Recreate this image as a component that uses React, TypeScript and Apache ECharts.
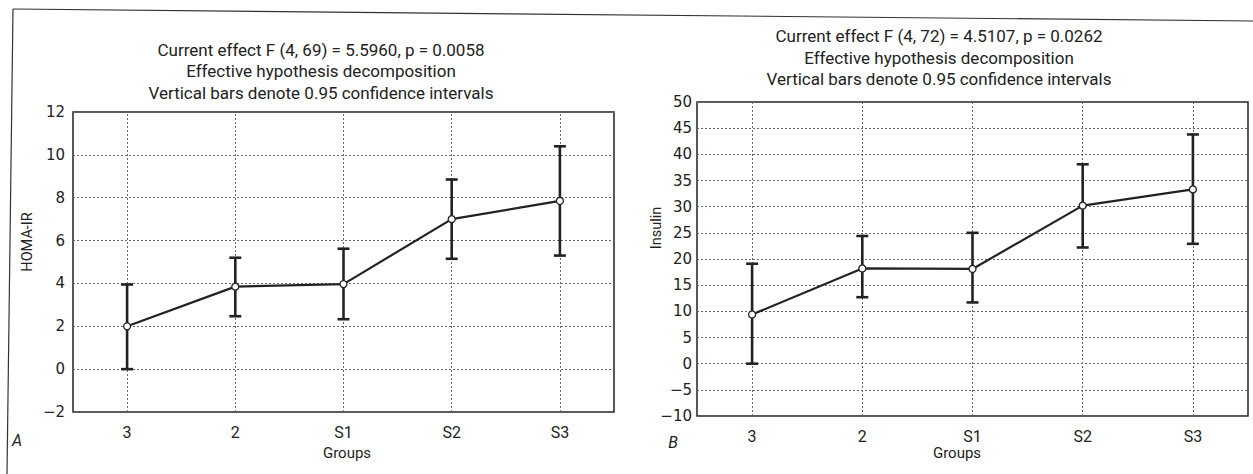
import React, { useEffect, useRef } from "react";
import * as echarts from "echarts";

const categories = ["3", "2", "S1", "S2", "S3"];

const homaMean = [2.0, 3.85, 3.97, 7.0, 7.85];
const homaLow = [0.0, 2.47, 2.33, 5.15, 5.3];
const homaHigh = [3.95, 5.2, 5.62, 8.85, 10.4];

const insulinMean = [9.4, 18.2, 18.1, 30.2, 33.3];
const insulinLow = [0.0, 12.7, 11.7, 22.2, 22.9];
const insulinHigh = [19.1, 24.4, 25.0, 38.1, 43.8];

const homaAxis = { min: -2, max: 12, interval: 2 };
const insulinAxis = { min: -10, max: 50, interval: 5 };

const titleA = [
  "Current effect F (4, 69) = 5.5960, p = 0.0058",
  "Effective hypothesis decomposition",
  "Vertical bars denote 0.95 confidence intervals",
];
const titleB = [
  "Current effect F (4, 72) = 4.5107, p = 0.0262",
  "Effective hypothesis decomposition",
  "Vertical bars denote 0.95 confidence intervals",
];

const NARROW = "Roboto, sans-serif";
const TICKFONT = "DejaVu Sans, sans-serif";
const INK = "#222";

function errorBarItem(params: any, api: any) {
  const x = api.value(0);
  const lo = api.coord([x, api.value(1)]);
  const hi = api.coord([x, api.value(2)]);
  const half = 6;
  const style = { stroke: INK, lineWidth: 2.6 };
  return {
    type: "group",
    children: [
      { type: "line", shape: { x1: hi[0], y1: hi[1], x2: lo[0], y2: lo[1] }, style },
      { type: "line", shape: { x1: hi[0] - half, y1: hi[1], x2: hi[0] + half, y2: hi[1] }, style },
      { type: "line", shape: { x1: lo[0] - half, y1: lo[1], x2: lo[0] + half, y2: lo[1] }, style },
    ],
  };
}

function panelSeries(idx: number, mean: number[], low: number[], high: number[]) {
  return [
    {
      type: "custom",
      xAxisIndex: idx,
      yAxisIndex: idx,
      renderItem: errorBarItem,
      data: categories.map((_, i) => [i, low[i], high[i]]),
      z: 3,
      silent: true,
    },
    {
      type: "line",
      xAxisIndex: idx,
      yAxisIndex: idx,
      data: mean,
      symbol: "circle",
      symbolSize: 7,
      itemStyle: { color: "#fff", borderColor: INK, borderWidth: 1.3 },
      lineStyle: { color: INK, width: 2.2 },
      z: 4,
      silent: true,
      markLine: {
        silent: true,
        symbol: "none",
        label: { show: false },
        lineStyle: { type: [2, 2], color: "#666", width: 1 },
        data: categories.map((c) => ({ xAxis: c })),
        z: 1,
      },
    },
  ];
}

const minusFmt = (v: number) => String(v).replace("-", "\u2212");

export default function App() {
  const ref = useRef<HTMLDivElement>(null);
  useEffect(() => {
    if (!ref.current) return;
    const chart = echarts.init(ref.current, null, { renderer: "svg" });
    const xAxisBase = (gridIndex: number) => ({
      type: "category",
      gridIndex,
      data: categories,
      boundaryGap: true,
      axisLine: { show: false },
      axisTick: { show: false },
      splitLine: { show: false },
      axisLabel: { color: INK, fontFamily: NARROW, fontSize: 16, margin: 12 },
    });
    const yAxisBase = (gridIndex: number, ax: any, margin: number) => ({
      type: "value",
      gridIndex,
      min: ax.min,
      max: ax.max,
      interval: ax.interval,
      axisLine: { show: false },
      axisTick: { show: false },
      axisLabel: { color: INK, fontFamily: TICKFONT, fontSize: 15, margin, formatter: minusFmt },
      splitLine: { show: true, lineStyle: { type: [2, 2], color: "#666", width: 1 } },
    });
    chart.setOption({
      animation: false,
      backgroundColor: "#fff",
      grid: [
        { left: 73, top: 112, width: 541, height: 300, show: true, borderColor: INK, borderWidth: 1.5, backgroundColor: "transparent" },
        { left: 697, top: 102, width: 551, height: 314, show: true, borderColor: INK, borderWidth: 1.5, backgroundColor: "transparent" },
      ],
      xAxis: [xAxisBase(0), xAxisBase(1)],
      yAxis: [yAxisBase(0, homaAxis, 8), yAxisBase(1, insulinAxis, 5)],
      series: [
        ...panelSeries(0, homaMean, homaLow, homaHigh),
        ...panelSeries(1, insulinMean, insulinLow, insulinHigh),
      ],
      graphic: [
        { type: "line", shape: { x1: 13, y1: 9, x2: 1253, y2: 21 }, style: { stroke: "#333", lineWidth: 1.2 }, silent: true },
        { type: "line", shape: { x1: 13, y1: 9, x2: 7, y2: 474 }, style: { stroke: "#333", lineWidth: 1.2 }, silent: true },
        {
          type: "text", x: 321, y: 71, silent: true,
          style: { text: titleA.join("\n"), align: "center", verticalAlign: "middle", fill: INK, fontFamily: NARROW, fontSize: 17, lineHeight: 21.5 },
        },
        {
          type: "text", x: 939, y: 57.5, silent: true,
          style: { text: titleB.join("\n"), align: "center", verticalAlign: "middle", fill: INK, fontFamily: NARROW, fontSize: 17, lineHeight: 21.5 },
        },
        {
          type: "text", x: 27, y: 242, rotation: Math.PI / 2, silent: true,
          style: { text: "HOMA-IR", align: "center", verticalAlign: "middle", fill: INK, fontFamily: NARROW, fontSize: 14.5 },
        },
        {
          type: "text", x: 656, y: 228, rotation: Math.PI / 2, silent: true,
          style: { text: "Insulin", align: "center", verticalAlign: "middle", fill: INK, fontFamily: NARROW, fontSize: 14.5 },
        },
        {
          type: "text", x: 347, y: 453, silent: true,
          style: { text: "Groups", align: "center", verticalAlign: "middle", fill: INK, fontFamily: NARROW, fontSize: 15 },
        },
        {
          type: "text", x: 957, y: 453, silent: true,
          style: { text: "Groups", align: "center", verticalAlign: "middle", fill: INK, fontFamily: NARROW, fontSize: 15 },
        },
        {
          type: "text", x: 17, y: 440, silent: true,
          style: { text: "A", align: "center", verticalAlign: "middle", fill: INK, fontFamily: NARROW, fontSize: 16, fontStyle: "italic" },
        },
        {
          type: "text", x: 673, y: 442, silent: true,
          style: { text: "B", align: "center", verticalAlign: "middle", fill: INK, fontFamily: NARROW, fontSize: 16, fontStyle: "italic" },
        },
      ],
    });
    return () => chart.dispose();
  }, []);
  return (
    <div
      ref={ref}
      style={{ position: "fixed", left: 0, top: 0, width: 1253, height: 474, background: "#fff" }}
    />
  );
}
